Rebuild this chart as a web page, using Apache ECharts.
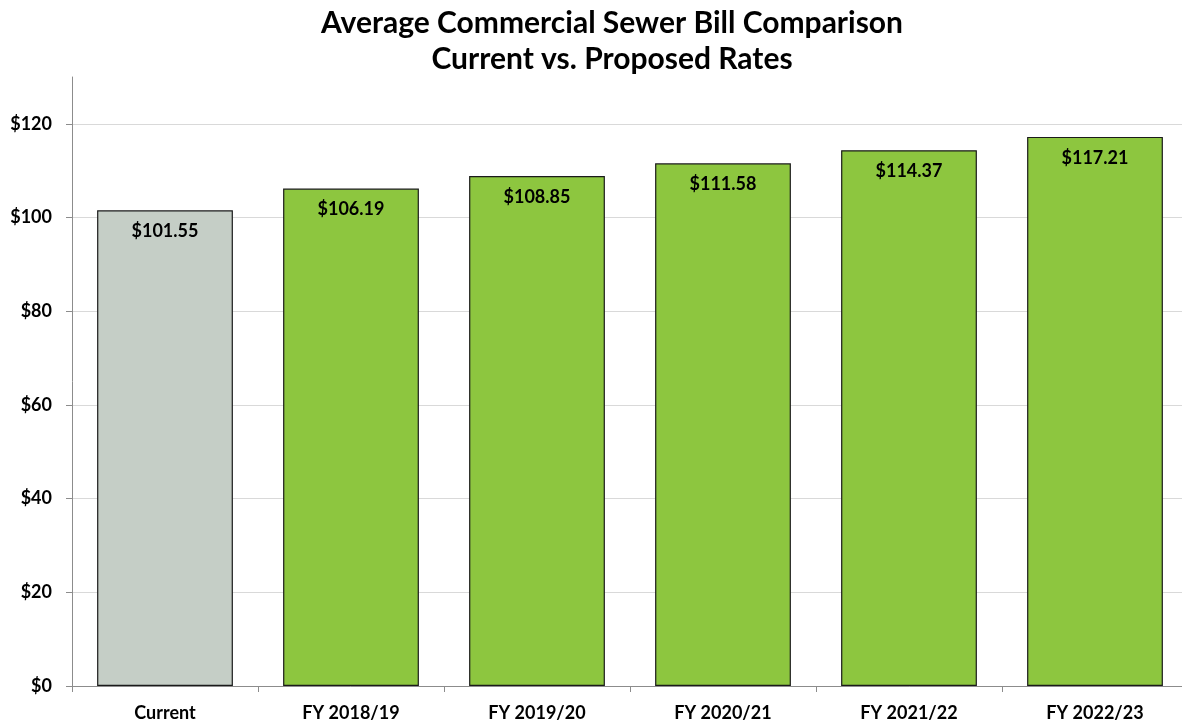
<!DOCTYPE html>
<html>
<head>
<meta charset="utf-8">
<script src="https://cdn.jsdelivr.net/npm/echarts@6/dist/echarts.min.js"></script>
<style>
  html, body { margin: 0; padding: 0; background: #fff; overflow: hidden; }
  /* the plot runs slightly past the right edge of the window */
  #chart { width: 1190px; height: 726px; }
</style>
</head>
<body>
<div id="chart"></div>
<script>
// Bill categories and average commercial sewer bill ($)
const categories = ['Current', 'FY 2018/19', 'FY 2019/20', 'FY 2020/21', 'FY 2021/22', 'FY 2022/23'];
const billValues = [101.55, 106.19, 108.85, 111.58, 114.37, 117.21];
const yTicks = [0, 20, 40, 60, 80, 100, 120];

const FONT = 'Lato, "Noto Sans", sans-serif';
const GREY = '#c5cec6';
const GREEN = '#8dc63f';

const chart = echarts.init(document.getElementById('chart'), null, { renderer: 'canvas' });

chart.setOption({
  animation: false,
  backgroundColor: '#ffffff',
  title: {
    text: 'Average Commercial Sewer Bill Comparison\nCurrent vs. Proposed Rates',
    left: 607,
    textAlign: 'center',
    top: 0,
    textStyle: {
      fontFamily: FONT,
      fontWeight: 'bold',
      fontSize: 30,
      lineHeight: 36,
      color: '#000'
    }
  },
  grid: { left: 72, right: 2, top: 77, bottom: 40, containLabel: false },
  xAxis: {
    type: 'category',
    data: categories,
    axisLine: { lineStyle: { color: '#8c8c8c', width: 1 } },
    axisTick: { show: true, length: 6, lineStyle: { color: '#8c8c8c' } },
    axisLabel: {
      margin: 18,
      fontFamily: FONT,
      fontWeight: 'bold',
      fontSize: 18,
      color: '#000'
    }
  },
  yAxis: {
    type: 'value',
    min: 0,
    max: 130,
    interval: 20,
    axisLine: { show: true, lineStyle: { color: '#8c8c8c', width: 1 } },
    axisTick: { show: true, length: 6, customValues: yTicks, lineStyle: { color: '#8c8c8c' } },
    axisLabel: {
      customValues: yTicks,
      margin: 20,
      fontFamily: FONT,
      fontWeight: 'bold',
      fontSize: 18,
      color: '#000',
      formatter: v => '$' + v
    },
    splitLine: {
      show: true,
      lineStyle: {
        color: ['#d9d9d9', '#d9d9d9', '#d9d9d9', '#d9d9d9', '#d9d9d9', '#d9d9d9', '#d9d9d9', 'rgba(0,0,0,0)'],
        width: 1
      }
    }
  },
  series: [{
    type: 'bar',
    data: billValues.map((v, i) => ({
      value: v,
      itemStyle: { color: i === 0 ? GREY : GREEN }
    })),
    barCategoryGap: '27%',
    itemStyle: { borderColor: '#1a1a1a', borderWidth: 1.2 },
    label: {
      show: true,
      position: 'insideTop',
      distance: 12,
      fontFamily: FONT,
      fontWeight: 'bold',
      fontSize: 18,
      color: '#000',
      formatter: p => '$' + p.value.toFixed(2)
    }
  }]
});
</script>
</body>
</html>
